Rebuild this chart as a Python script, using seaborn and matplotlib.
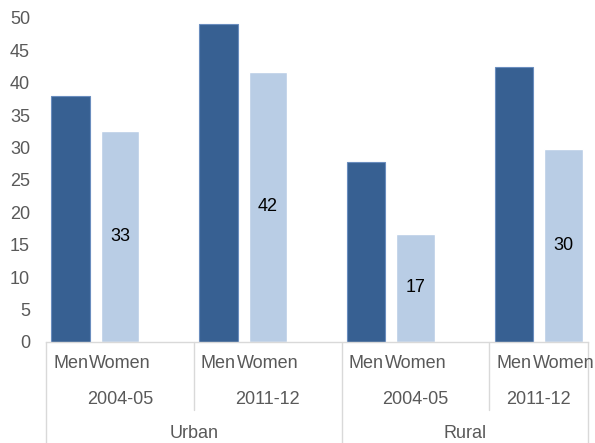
import pandas as pd
import seaborn as sns
import matplotlib.pyplot as plt

# --- data ---
areas = ["Urban", "Urban", "Rural", "Rural"]
years = ["2004-05", "2011-12", "2004-05", "2011-12"]
men = [38.0, 49.1, 27.8, 42.4]
women = [32.6, 41.7, 16.7, 29.8]
sexes = ["Men", "Women"]

men_color = "#376092"
women_color = "#B9CDE5"
grid_grey = "#D9D9D9"
text_grey = "#595959"
fs = 13

# build long table, with empty spacer slots between year groups
rows = []
order = []
for i, (a, y) in enumerate(zip(areas, years)):
    for s, vals in zip(sexes, [men, women]):
        key = f"{a} {y} {s}"
        rows.append({"slot": key, "value": vals[i], "sex": s})
        order.append(key)
    if i < len(areas) - 1:
        order.append(f"gap{i}")
df = pd.DataFrame(rows)

sns.set_theme(style="white")
plt.rcParams["font.family"] = ["Liberation Sans", "DejaVu Sans"]

fig = plt.figure(figsize=(5.95, 4.43), dpi=100)
ax = fig.add_axes([46 / 595, 101 / 443, 542 / 595, 324 / 443])

sns.barplot(data=df, x="slot", y="value", hue="sex", order=order,
            hue_order=sexes, palette=[men_color, women_color],
            dodge=False, width=0.78, ax=ax, legend=False, saturation=1)

# men bars get a thin lighter outline
for bar in ax.containers[0]:
    bar.set_edgecolor("#6A8DBE")
    bar.set_linewidth(0.8)

# only women bars are labelled
ax.bar_label(ax.containers[1], labels=[f"{v:.0f}" for v in women],
             label_type="center", fontsize=fs, color="black")

ax.set_xlim(-0.5, 10.5)
ax.set_ylim(0, 50)
ax.set_yticks(range(0, 51, 5))
ax.tick_params(axis="y", length=0, pad=11.5, labelsize=fs, labelcolor=text_grey)
ax.set_xticks([])
ax.set_xlabel("")
ax.set_ylabel("")
for side in ["top", "right", "left"]:
    ax.spines[side].set_visible(False)
ax.spines["bottom"].set_color(grid_grey)
ax.spines["bottom"].set_linewidth(1)

# multi-level category axis
tr = ax.get_xaxis_transform()
row1, row2, row3 = -22 / 324, -57 / 324, -92 / 324
for i in range(len(areas)):
    base = 3 * i
    ax.text(base, row1, "Men", transform=tr, ha="center", va="center",
            fontsize=fs, color=text_grey, clip_on=False)
    ax.text(base + 1, row1, "Women", transform=tr, ha="center", va="center",
            fontsize=fs, color=text_grey, clip_on=False)
    ax.text(base + 0.5 + (0.5 if i < 3 else 0.0), row2, years[i], transform=tr,
            ha="center", va="center", fontsize=fs, color=text_grey, clip_on=False)

ax.text(2.5, row3, "Urban", transform=tr, ha="center", va="center",
        fontsize=fs, color=text_grey, clip_on=False)
ax.text(8.0, row3, "Rural", transform=tr, ha="center", va="center",
        fontsize=fs, color=text_grey, clip_on=False)

for x in [-0.5, 5.5, 10.5]:
    ax.plot([x, x], [0, -101 / 324], transform=tr, color=grid_grey,
            lw=1, clip_on=False)
for x in [2.5, 8.5]:
    ax.plot([x, x], [0, -68 / 324], transform=tr, color=grid_grey,
            lw=1, clip_on=False)

fig.savefig("out.png", dpi=100)
